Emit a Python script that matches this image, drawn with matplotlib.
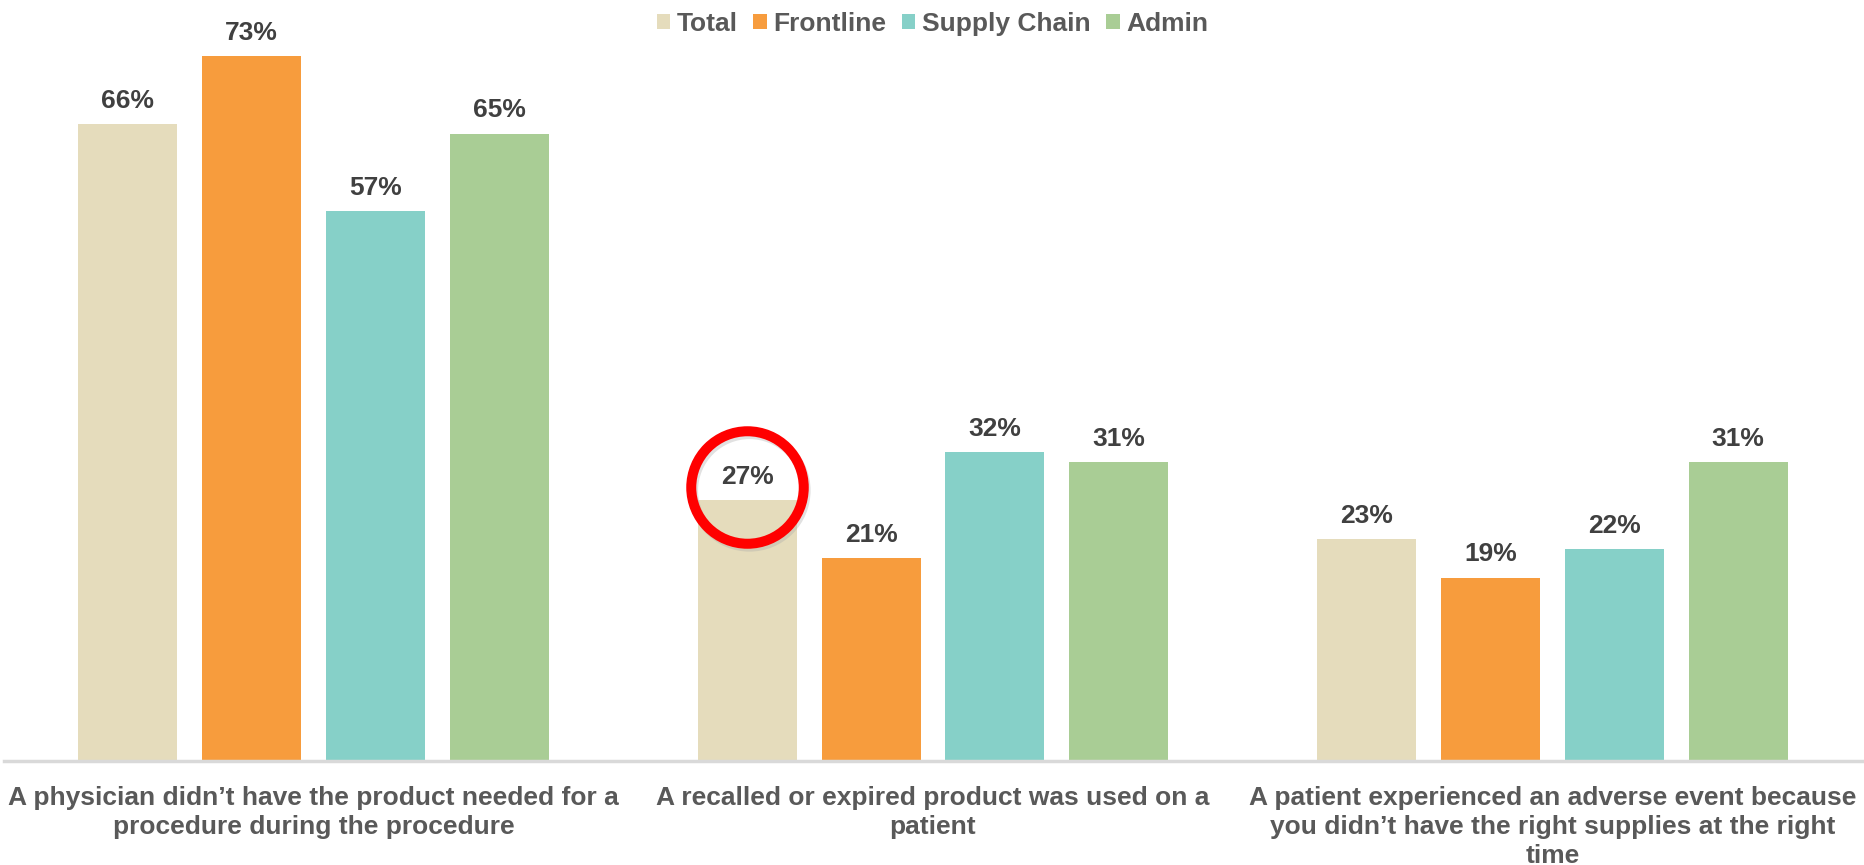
import numpy as np
import matplotlib.pyplot as plt
from matplotlib import transforms

# Datos
categorias = [
    "A physician didn\u2019t have the product needed for a\nprocedure during the procedure",
    "A recalled or expired product was used on a\npatient",
    "A patient experienced an adverse event because\nyou didn\u2019t have the right supplies at the right\ntime",
]
series = ["Total", "Frontline", "Supply Chain", "Admin"]
total = [0.66, 0.27, 0.23]
frontline = [0.73, 0.21, 0.19]
supply_chain = [0.57, 0.32, 0.22]
admin = [0.65, 0.31, 0.31]

colores = ["#E5DCBC", "#F79C3D", "#86D0C8", "#A9CD95"]

plt.rcParams["font.family"] = ["Liberation Sans", "DejaVu Sans"]

fig = plt.figure(figsize=(18.65, 8.65), dpi=100)
ax = fig.add_axes([4 / 1865, 104 / 865, 1858 / 1865, 753 / 865])

x = np.arange(len(categorias))
ancho = 0.16
offsets = [-0.3, -0.1, 0.1, 0.3]
valores = [total, frontline, supply_chain, admin]

for i, (nombre, vals) in enumerate(zip(series, valores)):
    barras = ax.bar(x + offsets[i], vals, width=ancho, color=colores[i], label=nombre, zorder=2)
    ax.bar_label(barras, labels=[f"{v:.0%}" for v in vals], padding=8,
                 fontsize=19, fontweight="bold", color="#404040")

# Circulo rojo sobre el 27%
cx, cy = x[1] + offsets[0], 0.284
sombra = ax.transData + transforms.ScaledTranslation(2 / 100, -3 / 100, fig.dpi_scale_trans)
ax.plot([cx], [cy], marker="o", markersize=81, markerfacecolor="none",
        markeredgecolor="#AAAAAA", markeredgewidth=7, alpha=0.35, zorder=3, transform=sombra)
ax.plot([cx], [cy], marker="o", markersize=81, markerfacecolor="none",
        markeredgecolor="#FF0000", markeredgewidth=7.2, zorder=4)

ax.set_xlim(-0.5, 2.5)
ax.set_ylim(0, 0.78)
ax.set_xticks(x)
ax.set_xticklabels(categorias, fontsize=19, fontweight="bold", color="#595959", linespacing=1.27)
ax.tick_params(axis="x", length=0, pad=18)
ax.set_yticks([])
for lado in ["top", "right", "left"]:
    ax.spines[lado].set_visible(False)
ax.spines["bottom"].set_color("#D9D9D9")
ax.spines["bottom"].set_linewidth(2.5)

leg = fig.legend(loc="center", bbox_to_anchor=(0.5, 1 - 24 / 865), ncol=4, frameon=False,
                 fontsize=19, handlelength=0.5, handleheight=0.5, handletextpad=0.25,
                 columnspacing=0.6, borderaxespad=0)
for t in leg.get_texts():
    t.set_color("#595959")
    t.set_fontweight("bold")

fig.savefig("out.png", dpi=100)
